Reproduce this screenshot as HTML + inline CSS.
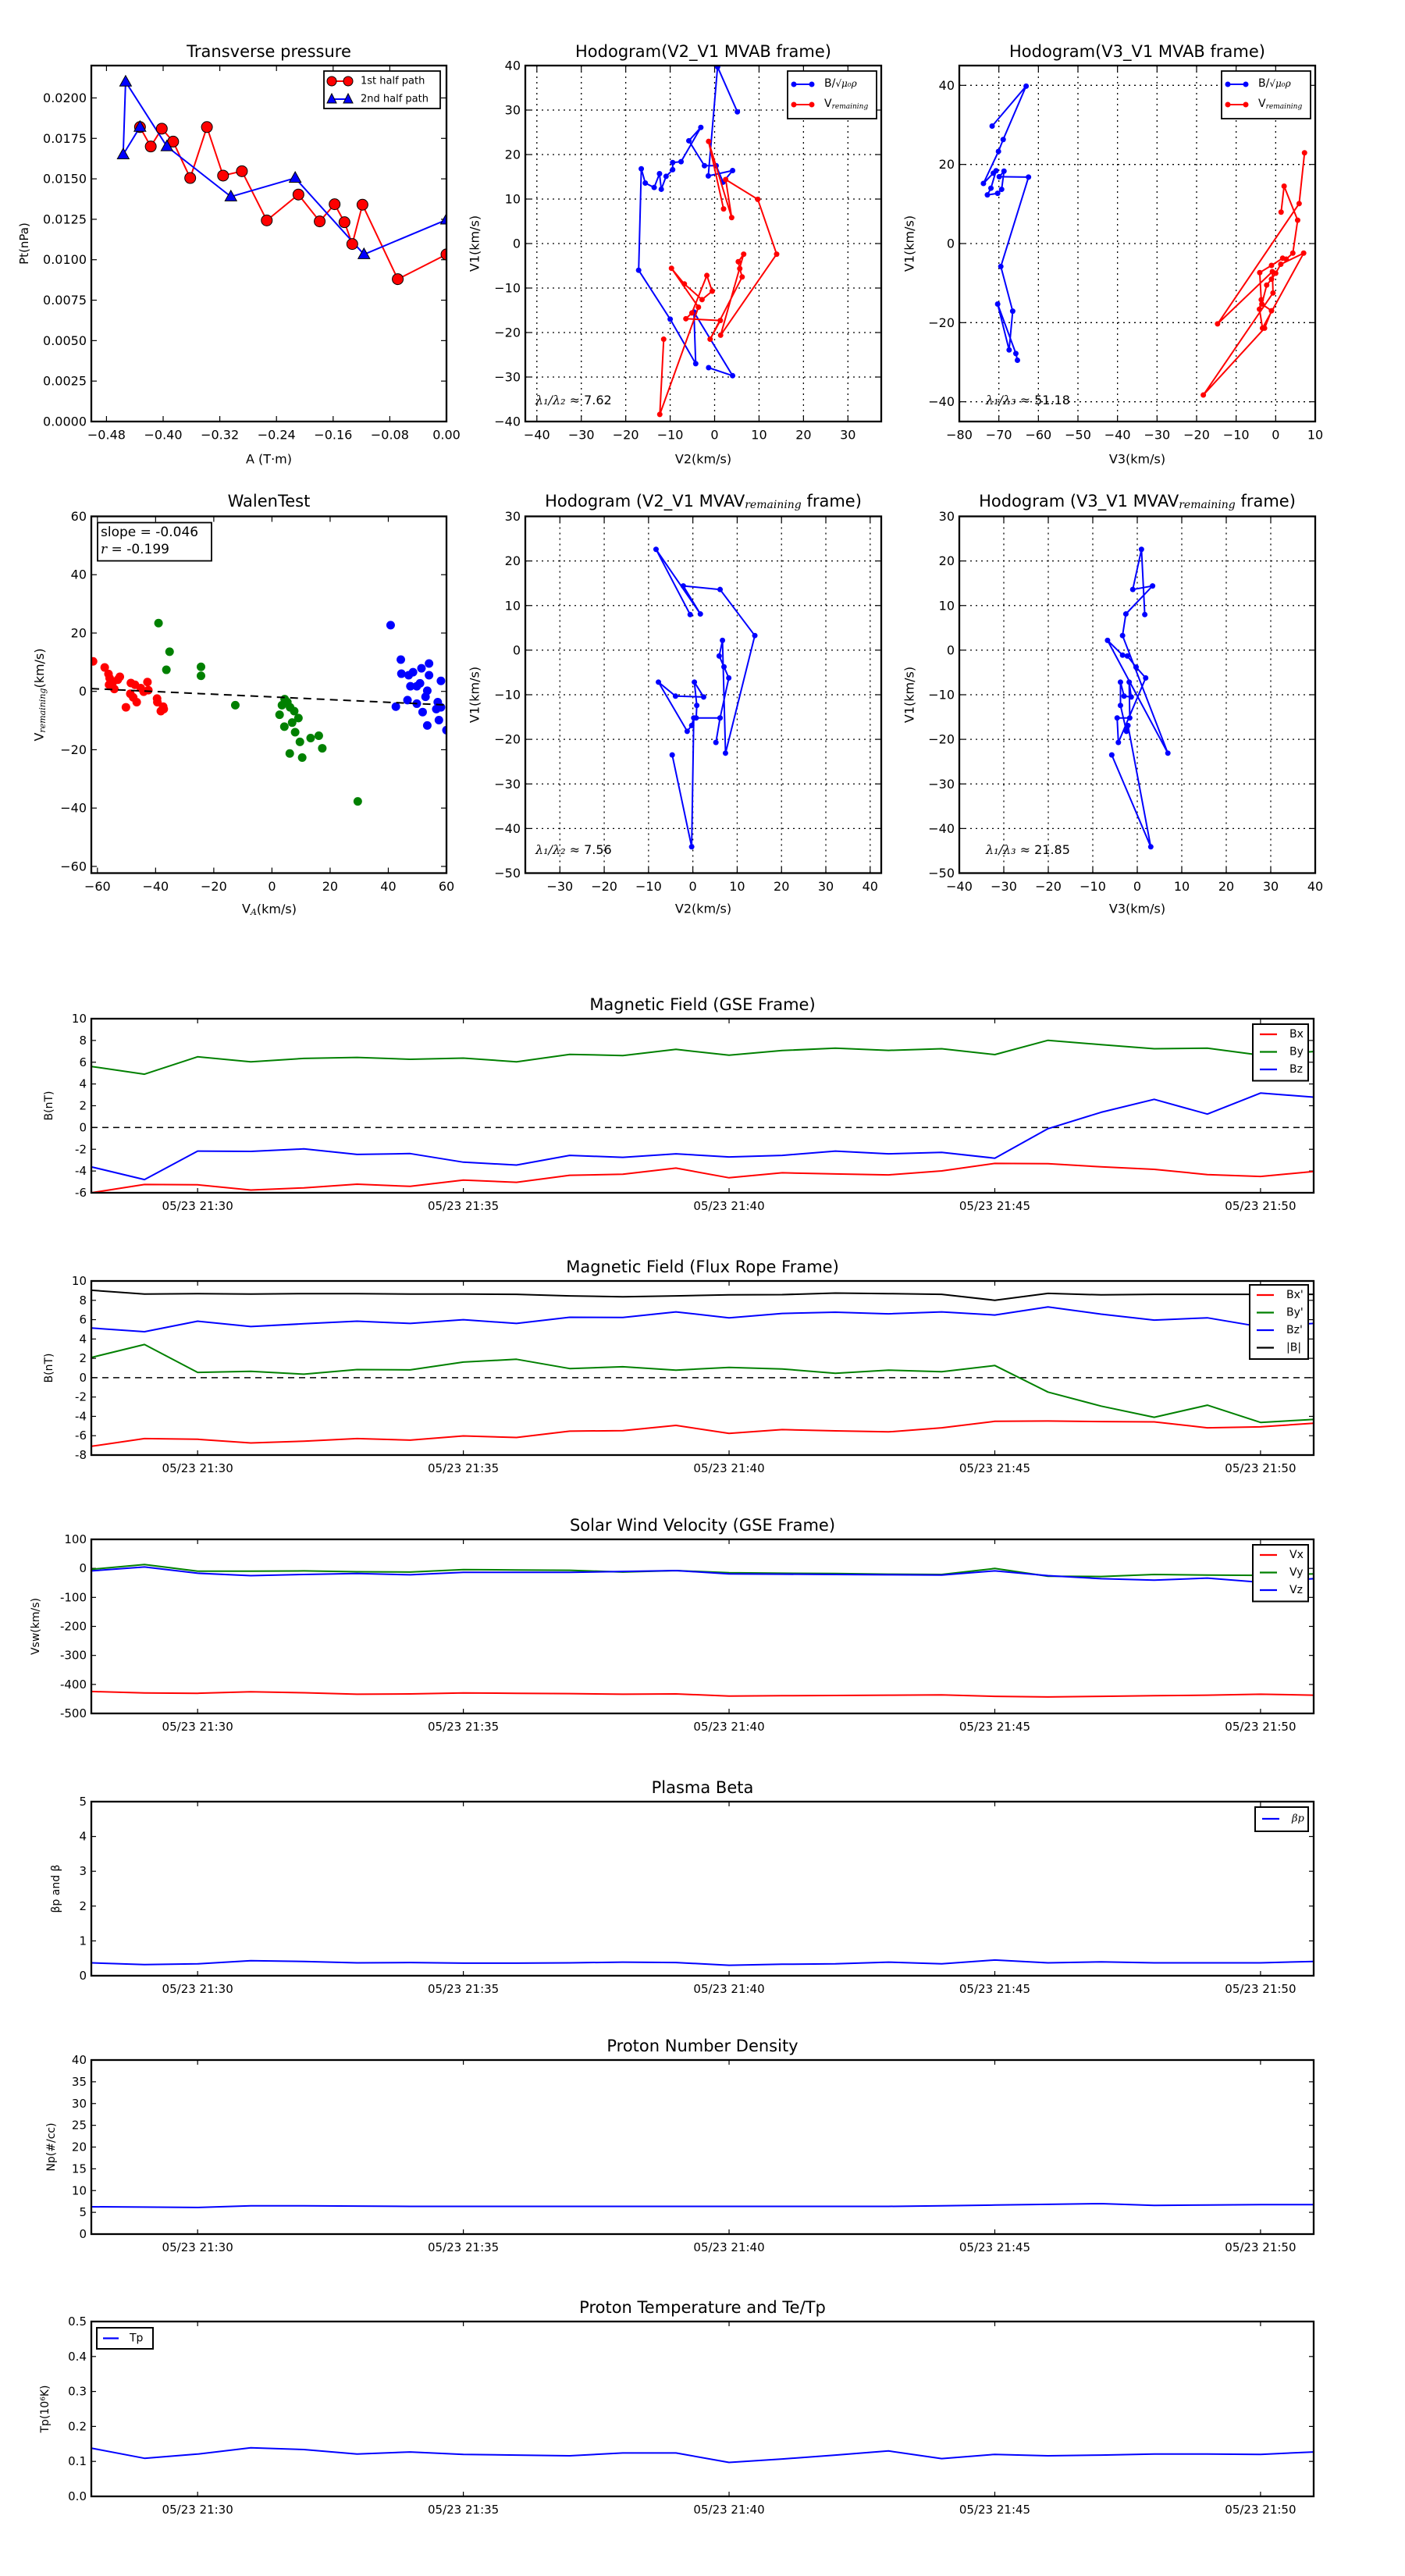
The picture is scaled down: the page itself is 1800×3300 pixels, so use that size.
<!DOCTYPE html>
<html><head><meta charset="utf-8"><title>Flux rope analysis</title>
<style>
html,body{margin:0;padding:0;background:#fff;}
svg{display:block;font-family:"DejaVu Sans","Liberation Sans",sans-serif;}
</style></head>
<body>
<svg id="fig" xmlns="http://www.w3.org/2000/svg" width="1800" height="3300" viewBox="0 0 1800 3300"></svg>
<script>
// ---------- data ----------
const pr1A=[-0.4327,-0.4175,-0.4019,-0.3859,-0.3618,-0.3382,-0.3154,-0.2888,-0.2537,-0.2090,-0.1790,-0.1579,-0.1440,-0.1330,-0.1186,-0.0688,0];
const pr1P=[0.0182,0.0170,0.0181,0.0173,0.01505,0.0182,0.0152,0.01547,0.01243,0.01403,0.01237,0.01343,0.01232,0.01097,0.0134,0.0088,0.01033];
const pr2A=[-0.4327,-0.4564,-0.4530,-0.3947,-0.3044,-0.2136,-0.1165,0];
const pr2P=[0.0182,0.0165,0.0210,0.0170,0.0139,0.01505,0.01033,0.01247];

const h1bX=[5.12,0.67,-1.42,4.05,1.89,0.34,-2.29,-5.80,-3.10,-7.55,-9.44,-9.44,-10.92,-12.0,-12.4,-13.6,-15.6,-16.5,-17.1,-10.0,-4.25,-4.65,4.05,-1.35];
const h1bY=[29.6,39.7,15.2,16.4,13.8,17.5,17.5,23.1,26.1,18.4,18.2,16.6,15.1,12.2,15.7,12.6,13.6,16.8,-6.0,-17.0,-27.0,-15.4,-29.7,-27.9];
const h1rX=[2.02,-1.35,3.84,2.49,9.71,13.96,1.35,6.54,5.33,5.66,6.20,-1.01,1.28,-6.47,-5.12,-1.75,-0.54,-2.83,-6.81,-9.71,-3.64,-12.34,-11.46];
const h1rY=[7.78,22.95,5.83,14.39,9.94,-2.39,-20.6,-2.39,-4.08,-5.63,-7.51,-21.5,-17.3,-16.9,-15.6,-7.18,-10.7,-12.6,-9.07,-5.56,-14.3,-38.4,-21.5];

const h2bX=[-71.7,-63.1,-68.9,-70.1,-73.9,-71.4,-70.7,-72.0,-72.9,-70.3,-69.3,-68.7,-69.9,-62.5,-69.5,-66.5,-67.4,-70.3,-65.7,-65.3];
const h2bY=[29.7,39.8,26.3,23.3,15.2,17.8,18.4,14.0,12.3,12.7,13.7,18.3,16.9,16.8,-5.8,-17.1,-26.9,-15.3,-27.8,-29.5];
const h2rX=[1.37,2.13,5.55,4.33,2.66,1.75,-1.06,-4.03,-3.65,-4.10,-3.34,7.07,1.29,0,-1.06,-2.28,-3.50,-1.06,-2.81,-18.3,-0.68,-0.84,-14.7,5.93,7.29];
const h2rY=[7.95,14.5,5.9,-2.42,-3.94,-3.71,-5.53,-7.35,-14.2,-16.6,-21.4,-2.42,-5.23,-7.5,-9.0,-10.5,-15.3,-17.0,-21.4,-38.3,-12.5,-7.1,-20.3,10.1,22.95];

const wRX=[-61.5,-57.5,-56.2,-55.8,-56.0,-54.6,-54.2,-53.0,-52.3,-50.2,-48.5,-48.7,-47.7,-47.1,-46.5,-45.1,-44.1,-42.8,-42.5,-39.5,-39.4,-38.2,-37.4,-37.2];
const wRY=[10.3,8.2,5.96,4.52,2.26,3.29,0.82,4.0,5.0,-5.45,2.88,-0.82,-2.05,2.26,-3.70,1.13,-0.10,3.19,0.41,-2.47,-3.70,-6.78,-5.24,-6.06];
const wGX=[-39.0,-35.2,-36.3,-24.4,-24.4,-12.6,2.62,3.44,4.37,5.30,4.27,6.22,6.94,7.66,9.10,7.97,9.61,6.12,10.4,13.3,16.1,17.3,29.5];
const wGY=[23.4,13.6,7.40,8.42,5.34,-4.73,-8.01,-4.73,-2.67,-3.70,-12.1,-5.45,-10.7,-6.78,-9.14,-14.0,-17.3,-21.3,-22.7,-16.0,-15.2,-19.5,-37.7];
const wBX=[40.8,44.3,44.5,47.0,48.5,51.4,54.0,54.0,58.1,47.6,49.8,50.9,53.4,52.8,46.6,49.8,42.6,57.0,56.5,58.1,51.8,57.4,53.4,60.0];
const wBY=[22.7,10.9,6.06,5.55,6.58,7.91,9.56,5.55,3.60,1.75,1.75,2.77,0.21,-1.85,-2.98,-4.21,-5.24,-3.70,-6.06,-5.45,-7.09,-9.86,-11.7,-13.3];
const walenSlope=-0.046, walenIntercept=-1.9;

const h3X=[-0.61,-8.31,1.69,-2.16,6.14,13.98,7.36,6.68,5.94,7.02,8.10,6.14,5.20,6.14,0.74,0.88,0.34,2.43,-3.92,-7.77,-1.28,-0.27,0.20,-0.27,-4.66];
const h3Y=[7.98,22.6,8.11,14.4,13.6,3.27,-23.1,2.19,-1.31,-3.74,-6.23,-15.2,-20.7,-15.2,-15.2,-12.4,-7.17,-10.5,-10.3,-7.17,-18.2,-16.9,-15.2,-44.1,-23.5];
const h4X=[1.69,0.94,-1.01,3.44,-2.56,-3.31,6.88,-6.68,-3.31,-2.23,-0.27,1.89,-4.25,-4.52,-1.69,-1.82,-1.35,-2.97,-3.78,-3.78,-2.43,-2.09,3.04,-5.73];
const h4Y=[7.98,22.6,13.6,14.4,8.11,3.27,-23.1,2.19,-1.11,-1.31,-3.81,-6.23,-20.7,-15.2,-15.2,-7.17,-10.5,-10.3,-7.17,-12.4,-18.2,-16.9,-44.1,-23.5];

// time series: minutes after 21:28, one sample per minute
const tMin=[0,1,2,3,4,5,6,7,8,9,10,11,12,13,14,15,16,17,18,19,20,21,22,23];
const timeTickMin=[2,7,12,17,22];
const timeTickLabels=['05/23 21:30','05/23 21:35','05/23 21:40','05/23 21:45','05/23 21:50'];
const gseBx=[-6,-5.24,-5.27,-5.75,-5.55,-5.21,-5.41,-4.84,-5.04,-4.39,-4.30,-3.73,-4.62,-4.16,-4.27,-4.36,-3.99,-3.30,-3.33,-3.62,-3.85,-4.33,-4.50,-4.04];
const gseBy=[5.61,4.90,6.50,6.04,6.35,6.44,6.27,6.38,6.04,6.72,6.61,7.18,6.64,7.07,7.29,7.09,7.24,6.70,8.01,7.61,7.24,7.29,6.64,6.98];
const gseBz=[-3.62,-4.79,-2.17,-2.20,-1.97,-2.48,-2.40,-3.19,-3.45,-2.56,-2.74,-2.42,-2.71,-2.56,-2.17,-2.42,-2.28,-2.82,-0.11,1.40,2.59,1.23,3.16,2.79];
const frBx=[-7.10,-6.30,-6.37,-6.75,-6.56,-6.30,-6.46,-6.02,-6.18,-5.53,-5.47,-4.93,-5.76,-5.37,-5.50,-5.60,-5.18,-4.51,-4.48,-4.54,-4.57,-5.18,-5.09,-4.71];
const frBy=[2.09,3.43,0.55,0.65,0.36,0.84,0.81,1.61,1.90,0.94,1.13,0.78,1.06,0.90,0.45,0.78,0.62,1.26,-1.49,-2.94,-4.09,-2.84,-4.63,-4.32];
const frBz=[5.13,4.75,5.84,5.29,5.58,5.84,5.61,6.00,5.61,6.25,6.22,6.80,6.19,6.64,6.77,6.60,6.80,6.48,7.31,6.57,5.96,6.19,5.26,5.61];
const frBt=[9.04,8.65,8.69,8.65,8.69,8.69,8.65,8.65,8.62,8.46,8.37,8.46,8.56,8.59,8.75,8.69,8.62,8.01,8.72,8.56,8.62,8.62,8.62,8.62];
const vx=[-424.5,-429.6,-430.7,-425.5,-428.6,-433.8,-432.8,-429.6,-430.7,-431.7,-433.8,-432.8,-440.0,-439.0,-438.0,-437.0,-435.9,-441.0,-443.1,-441.0,-439.0,-437.0,-433.8,-437.0];
const vy=[-3.4,13.1,-9.7,-9.7,-8.6,-11.7,-12.8,-4.5,-5.5,-6.5,-12.8,-7.6,-14.8,-16.9,-17.9,-20.0,-21.0,-0.3,-27.2,-28.2,-21.0,-23.1,-24.1,-19.0];
const vz=[-8.6,4.8,-16.9,-25.2,-21.0,-17.9,-22.1,-13.8,-13.8,-13.8,-10.7,-7.6,-19.0,-20.0,-21.0,-22.1,-23.1,-8.6,-25.2,-35.5,-40.7,-33.4,-47.9,-35.5];
const betaP=[0.37,0.32,0.34,0.43,0.41,0.37,0.38,0.36,0.36,0.37,0.39,0.38,0.30,0.33,0.34,0.39,0.34,0.45,0.37,0.40,0.37,0.37,0.37,0.41];
const np=[6.28,6.2,6.12,6.52,6.52,6.44,6.36,6.36,6.36,6.36,6.36,6.36,6.36,6.36,6.36,6.36,6.52,6.68,6.84,7.0,6.6,6.68,6.76,6.76];
const tp=[0.138,0.109,0.121,0.139,0.134,0.121,0.127,0.120,0.118,0.116,0.124,0.124,0.097,0.107,0.118,0.130,0.108,0.120,0.116,0.118,0.121,0.121,0.120,0.127];

// ---------- helpers ----------
const NS='http://www.w3.org/2000/svg';
const svg=document.getElementById('fig');
function mk(tag,attrs,name,parent){
  const el=document.createElementNS(NS,tag);
  for(const k in attrs) el.setAttribute(k,attrs[k]);
  
  
  (parent||svg).appendChild(el);
  return el;
}
function txt(x,y,s,size,anchor,name,parent,extra){
  const a=Object.assign({x:x,y:y,'font-size':size,'text-anchor':anchor||'middle','dominant-baseline':'central',fill:'#000'},extra||{});
  const t=mk('text',a,name,parent);
  t.textContent=s;
  return t;
}
function fmtMinus(s){return String(s).replace('-','\u2212');}
function makeAxes(o){
  const g=mk('g',{},o.name);
  const sx=v=>o.x0+(v-o.xmin)/(o.xmax-o.xmin)*o.w;
  const sy=v=>o.y0+o.h-(v-o.ymin)/(o.ymax-o.ymin)*o.h;
  const clipId='clip-'+o.name;
  const cp=mk('clipPath',{id:clipId},'clip-'+o.name,g);
  mk('rect',{x:o.x0,y:o.y0,width:o.w,height:o.h},'clip-rect',cp);
  const grid=mk('g',{},'grid',g);
  const ticks=mk('g',{},'ticks',g);
  const tl=o.tl||7;
  (o.xticks||[]).forEach((v,i)=>{
    const x=sx(v);
    if(o.grid) mk('line',{x1:x,y1:o.y0,x2:x,y2:o.y0+o.h,stroke:'#000','stroke-width':1.3,'stroke-dasharray':'2,5'},'x-grid-line',grid);
    mk('line',{x1:x,y1:o.y0+o.h,x2:x,y2:o.y0+o.h-tl,stroke:'#000','stroke-width':1.2},'x-tick',ticks);
    mk('line',{x1:x,y1:o.y0,x2:x,y2:o.y0+tl,stroke:'#000','stroke-width':1.2},'x-tick-top',ticks);
    txt(x,o.y0+o.h+(o.xlOff||17),o.xlabels?o.xlabels[i]:fmtMinus(v),o.tfs||16,'middle','x-tick-label',ticks);
  });
  (o.yticks||[]).forEach((v,i)=>{
    const y=sy(v);
    if(o.grid) mk('line',{x1:o.x0,y1:y,x2:o.x0+o.w,y2:y,stroke:'#000','stroke-width':1.3,'stroke-dasharray':'2,5'},'y-grid-line',grid);
    mk('line',{x1:o.x0,y1:y,x2:o.x0+tl,y2:y,stroke:'#000','stroke-width':1.2},'y-tick',ticks);
    mk('line',{x1:o.x0+o.w,y1:y,x2:o.x0+o.w-tl,y2:y,stroke:'#000','stroke-width':1.2},'y-tick-right',ticks);
    txt(o.x0-(o.ylOff||6),y,o.ylabels?o.ylabels[i]:fmtMinus(v),o.tfs||16,'end','y-tick-label',ticks);
  });
  const plot=mk('g',{'clip-path':'url(#'+clipId+')'},'plot-area',g);
  const over=mk('g',{},'overlay',g);
  mk('rect',{x:o.x0,y:o.y0,width:o.w,height:o.h,fill:'none',stroke:'#000','stroke-width':2.3},'axes-frame',g);
  if(o.title) txt(o.x0+o.w/2,o.titleY,o.title,o.titleFs||21,'middle','chart-title',g);
  if(o.xlabel) txt(o.x0+o.w/2,o.xlabelY,o.xlabel,16,'middle','x-axis-title',g);
  if(o.ylabel){const t=txt(o.ylabelX,o.y0+o.h/2,o.ylabel,o.ylFs||16,'middle','y-axis-title',g,{transform:'rotate(-90 '+o.ylabelX+' '+(o.y0+o.h/2)+')'});}
  return {g,sx,sy,plot,over,o};
}
function poly(ax,xs,ys,color,name,w){
  const pts=xs.map((v,i)=>ax.sx(v).toFixed(1)+','+ax.sy(ys[i]).toFixed(1)).join(' ');
  return mk('polyline',{points:pts,fill:'none',stroke:color,'stroke-width':w||2,'stroke-linejoin':'round'},name,ax.plot);
}
function dots(ax,xs,ys,color,r,name,stroke){
  xs.forEach((v,i)=>{
    mk('circle',{cx:ax.sx(v),cy:ax.sy(ys[i]),r:r,fill:color,stroke:stroke||'none','stroke-width':1},name,ax.plot);
  });
}
function range(a,b,s){const r=[];for(let v=a;v<=b+1e-9;v+=s)r.push(Math.round(v*1e6)/1e6);return r;}

// ---------- Transverse pressure ----------
const pAx=makeAxes({name:'transverse-pressure-chart',x0:117,y0:84,w:455,h:456,xmin:-0.5014,xmax:0,ymin:0,ymax:0.022,
  xticks:[-0.48,-0.40,-0.32,-0.24,-0.16,-0.08,0],xlabels:['\u22120.48','\u22120.40','\u22120.32','\u22120.24','\u22120.16','\u22120.08','0.00'],
  yticks:range(0,0.02,0.0025),ylabels:range(0,0.02,0.0025).map(v=>v.toFixed(4)),
  title:'Transverse pressure',titleY:66,xlabel:'A (T\u00b7m)',xlabelY:588,ylabel:'Pt(nPa)',ylabelX:31,ylFs:15});
poly(pAx,pr1A,pr1P,'#f00','first-half-path-line',2);
poly(pAx,pr2A,pr2P,'#00f','second-half-path-line',2);
dots(pAx,pr1A,pr1P,'#f00',7,'first-half-marker','#000');
pr2A.forEach((v,i)=>{
  const x=pAx.sx(v),y=pAx.sy(pr2P[i]);
  mk('polygon',{points:(x)+','+(y-8)+' '+(x-7.5)+','+(y+5.5)+' '+(x+7.5)+','+(y+5.5),fill:'#00f',stroke:'#000','stroke-width':1},'second-half-marker',pAx.plot);
});
(function(){
  const lg=mk('g',{},'pressure-legend',pAx.over);
  mk('rect',{x:415,y:91,width:149,height:48,fill:'#fff',stroke:'#000','stroke-width':1.8},'legend-box',lg);
  mk('line',{x1:425,y1:104,x2:446,y2:104,stroke:'#f00','stroke-width':2},'legend-line-first',lg);
  mk('circle',{cx:425,cy:104,r:6,fill:'#f00',stroke:'#000'},'legend-marker-first',lg);
  mk('circle',{cx:446,cy:104,r:6,fill:'#f00',stroke:'#000'},'legend-marker-first',lg);
  txt(462,104,'1st half path',13,'start','legend-entry-first',lg);
  mk('line',{x1:425,y1:127,x2:446,y2:127,stroke:'#00f','stroke-width':2},'legend-line-second',lg);
  mk('polygon',{points:'425,120 419,132 431,132',fill:'#00f',stroke:'#000'},'legend-marker-second',lg);
  mk('polygon',{points:'446,120 440,132 452,132',fill:'#00f',stroke:'#000'},'legend-marker-second',lg);
  txt(462,127,'2nd half path',13,'start','legend-entry-second',lg);
})();

// ---------- hodogram legend helper ----------
function hodoLegend(ax,x,name){
  const lg=mk('g',{},name,ax.over);
  mk('rect',{x:x,y:91,width:114,height:61,fill:'#fff',stroke:'#000','stroke-width':1.8},'legend-box',lg);
  mk('line',{x1:x+8,y1:108,x2:x+31,y2:108,stroke:'#00f','stroke-width':2},'legend-line-b',lg);
  mk('circle',{cx:x+8,cy:108,r:3.5,fill:'#00f'},'legend-dot',lg);
  mk('circle',{cx:x+31,cy:108,r:3.5,fill:'#00f'},'legend-dot',lg);
  const t1=txt(x+47,107,'B/',14,'start','legend-entry-b',lg);
  const ts=document.createElementNS(NS,'tspan');ts.setAttribute('font-family','DejaVu Serif, serif');ts.setAttribute('font-style','italic');ts.setAttribute('font-size','12');ts.textContent='\u221A\u03bc\u2080\u03c1';t1.appendChild(ts);
  mk('line',{x1:x+8,y1:134,x2:x+31,y2:134,stroke:'#f00','stroke-width':2},'legend-line-v',lg);
  mk('circle',{cx:x+8,cy:134,r:3.5,fill:'#f00'},'legend-dot',lg);
  mk('circle',{cx:x+31,cy:134,r:3.5,fill:'#f00'},'legend-dot',lg);
  const t2=txt(x+47,133,'V',14,'start','legend-entry-v',lg);
  const s2=document.createElementNS(NS,'tspan');s2.setAttribute('font-family','DejaVu Serif, serif');s2.setAttribute('font-style','italic');s2.setAttribute('font-size','9');s2.setAttribute('dy','4');s2.textContent='remaining';t2.appendChild(s2);
}
function lambdaText(ax,x,y,sub,val){
  const t=txt(x,y,'',16,'start','eigenvalue-ratio-label',ax.over);
  const a=document.createElementNS(NS,'tspan');a.setAttribute('font-family','DejaVu Serif, serif');a.setAttribute('font-style','italic');a.textContent='\u03bb\u2081/\u03bb'+sub+' \u2248 ';t.appendChild(a);
  const b=document.createElementNS(NS,'tspan');b.textContent=val;t.appendChild(b);
}

// ---------- Hodogram V2_V1 MVAB ----------
const h1=makeAxes({name:'hodogram-v2-v1-mvab',x0:673,y0:84,w:456,h:456,xmin:-42.6,xmax:37.5,ymin:-40,ymax:40,grid:true,
  xticks:range(-40,30,10),yticks:range(-40,40,10),title:'Hodogram(V2_V1 MVAB frame)',titleY:66,xlabel:'V2(km/s)',xlabelY:588,ylabel:'V1(km/s)',ylabelX:608});
poly(h1,h1bX,h1bY,'#00f','b-hodogram-line');dots(h1,h1bX,h1bY,'#00f',3.5,'b-hodogram-point');
poly(h1,h1rX,h1rY,'#f00','v-hodogram-line');dots(h1,h1rX,h1rY,'#f00',3.5,'v-hodogram-point');
hodoLegend(h1,1009,'hodogram-legend');lambdaText(h1,686,512,'\u2082','7.62');

// ---------- Hodogram V3_V1 MVAB ----------
const h2=makeAxes({name:'hodogram-v3-v1-mvab',x0:1229,y0:84,w:456,h:456,xmin:-80,xmax:10,ymin:-45,ymax:45,grid:true,
  xticks:range(-80,10,10),yticks:range(-40,40,20),title:'Hodogram(V3_V1 MVAB frame)',titleY:66,xlabel:'V3(km/s)',xlabelY:588,ylabel:'V1(km/s)',ylabelX:1165});
poly(h2,h2bX,h2bY,'#00f','b-hodogram-line');dots(h2,h2bX,h2bY,'#00f',3.5,'b-hodogram-point');
poly(h2,h2rX,h2rY,'#f00','v-hodogram-line');dots(h2,h2rX,h2rY,'#f00',3.5,'v-hodogram-point');
hodoLegend(h2,1565,'hodogram-legend');lambdaText(h2,1263,512,'\u2083','51.18');

// ---------- Walen test ----------
const wAx=makeAxes({name:'walen-test-chart',x0:117,y0:661.5,w:455,h:457,xmin:-62.1,xmax:60,ymin:-62.3,ymax:60,
  xticks:range(-60,60,20),yticks:range(-60,60,20),title:'WalenTest',titleY:642,xlabel:'',ylabel:'',tfs:16});
dots(wAx,wRX,wRY,'#f00',5.5,'walen-point-red');
dots(wAx,wGX,wGY,'#008000',5.5,'walen-point-green');
dots(wAx,wBX,wBY,'#00f',5.5,'walen-point-blue');
mk('line',{x1:wAx.sx(-62.1),y1:wAx.sy(walenSlope*-62.1+walenIntercept),x2:wAx.sx(60),y2:wAx.sy(walenSlope*60+walenIntercept),stroke:'#000','stroke-width':2,'stroke-dasharray':'10,7'},'regression-line',wAx.plot);
(function(){
  const b=mk('g',{},'walen-stats-box',wAx.over);
  mk('rect',{x:125,y:669.5,width:146,height:49,fill:'#fff',stroke:'#000','stroke-width':1.8},'stats-box',b);
  txt(129,682,'slope = -0.046',17,'start','slope-label',b);
  const t=txt(129,704,'',17,'start','r-label',b);
  const a=document.createElementNS(NS,'tspan');a.setAttribute('font-family','DejaVu Serif, serif');a.setAttribute('font-style','italic');a.textContent='r';t.appendChild(a);
  const c=document.createElementNS(NS,'tspan');c.textContent=' = -0.199';t.appendChild(c);
  const xl=txt(345,1164,'V',16,'middle','x-axis-title',wAx.g);
  const xs=document.createElementNS(NS,'tspan');xs.setAttribute('font-family','DejaVu Serif, serif');xs.setAttribute('font-style','italic');xs.setAttribute('font-size','11');xs.setAttribute('dy','4');xs.textContent='A';xl.appendChild(xs);
  const xs2=document.createElementNS(NS,'tspan');xs2.setAttribute('dy','-4');xs2.textContent='(km/s)';xl.appendChild(xs2);
  const yl=txt(50,890,'V',16,'middle','y-axis-title',wAx.g,{transform:'rotate(-90 50 890)'});
  const ys=document.createElementNS(NS,'tspan');ys.setAttribute('font-family','DejaVu Serif, serif');ys.setAttribute('font-style','italic');ys.setAttribute('font-size','11');ys.setAttribute('dy','4');ys.textContent='remaining';yl.appendChild(ys);
  const ys2=document.createElementNS(NS,'tspan');ys2.setAttribute('dy','-4');ys2.textContent='(km/s)';yl.appendChild(ys2);
})();

// ---------- Hodogram remaining frames ----------
function remTitle(ax,x,pre){
  const t=txt(x,642,pre,21,'middle','chart-title-remaining',ax.g);
  const s=document.createElementNS(NS,'tspan');s.setAttribute('font-family','DejaVu Serif, serif');s.setAttribute('font-style','italic');s.setAttribute('font-size','14');s.setAttribute('dy','5');s.textContent='remaining';t.appendChild(s);
  const e=document.createElementNS(NS,'tspan');e.setAttribute('dy','-5');e.textContent=' frame)';t.appendChild(e);
}
const h3=makeAxes({name:'hodogram-v2-v1-mvav',x0:673,y0:661.5,w:456,h:457,xmin:-37.8,xmax:42.5,ymin:-50,ymax:30,grid:true,
  xticks:range(-30,40,10),yticks:range(-50,30,10),xlabel:'V2(km/s)',xlabelY:1164,ylabel:'V1(km/s)',ylabelX:608});
remTitle(h3,901,'Hodogram (V2_V1 MVAV');
poly(h3,h3X,h3Y,'#00f','hodogram-line');dots(h3,h3X,h3Y,'#00f',3.5,'hodogram-point');
lambdaText(h3,686,1088,'\u2082','7.56');
const h4=makeAxes({name:'hodogram-v3-v1-mvav',x0:1229,y0:661.5,w:456,h:457,xmin:-40,xmax:40,ymin:-50,ymax:30,grid:true,
  xticks:range(-40,40,10),yticks:range(-50,30,10),xlabel:'V3(km/s)',xlabelY:1164,ylabel:'V1(km/s)',ylabelX:1165});
remTitle(h4,1457,'Hodogram (V3_V1 MVAV');
poly(h4,h4X,h4Y,'#00f','hodogram-line');dots(h4,h4X,h4Y,'#00f',3.5,'hodogram-point');
lambdaText(h4,1263,1088,'\u2083','21.85');

// ---------- Time series ----------
function timePanel(name,y0,h,ymin,ymax,step,title,ylabel,ylabelX,dec){
  const yt=range(ymin,ymax,step);
  return makeAxes({name:name,x0:117,y0:y0,w:1566,h:h,xmin:0,xmax:23,ymin:ymin,ymax:ymax,tl:6,
    xticks:timeTickMin,xlabels:timeTickLabels,yticks:yt,ylabels:yt.map(v=>dec?v.toFixed(dec):String(v)),
    title:title,titleY:y0-18,titleFs:21,ylabel:ylabel,ylabelX:ylabelX,ylFs:14,tfs:15});
}
function tsLegend(ax,x,y,w,entries,name){
  const lg=mk('g',{},name,ax.over);
  const hh=entries.length*22.5+5;
  mk('rect',{x:x,y:y,width:w,height:hh,fill:'#fff',stroke:'#000','stroke-width':2},'legend-box',lg);
  entries.forEach((e,i)=>{
    const yy=y+13+i*22.5;
    mk('line',{x1:x+9,y1:yy,x2:x+31,y2:yy,stroke:e[1],'stroke-width':2.2},'legend-swatch',lg);
    txt(x+47,yy,e[0],14,'start','legend-entry',lg);
  });
}
function zeroLine(ax){mk('line',{x1:ax.sx(0),y1:ax.sy(0),x2:ax.sx(23),y2:ax.sy(0),stroke:'#000','stroke-width':1.5,'stroke-dasharray':'8,6'},'zero-line',ax.plot);}

const g1=timePanel('magnetic-field-gse',1305,223,-6,10,2,'Magnetic Field (GSE Frame)','B(nT)',63);
zeroLine(g1);
poly(g1,tMin,gseBx,'#f00','bx-line');poly(g1,tMin,gseBy,'#008000','by-line');poly(g1,tMin,gseBz,'#00f','bz-line');
tsLegend(g1,1605,1312,71,[['Bx','#f00'],['By','#008000'],['Bz','#00f']],'gse-legend');

const g2=timePanel('magnetic-field-flux-rope',1641,223,-8,10,2,'Magnetic Field (Flux Rope Frame)','B(nT)',63);
zeroLine(g2);
poly(g2,tMin,frBx,'#f00','bx-prime-line');poly(g2,tMin,frBy,'#008000','by-prime-line');poly(g2,tMin,frBz,'#00f','bz-prime-line');poly(g2,tMin,frBt,'#000','b-magnitude-line');
tsLegend(g2,1601,1646,75,[["Bx'",'#f00'],["By'",'#008000'],["Bz'",'#00f'],['|B|','#000']],'flux-rope-legend');

const g3=timePanel('solar-wind-velocity',1972,223,-500,100,100,'Solar Wind Velocity (GSE Frame)','Vsw(km/s)',46);
poly(g3,tMin,vx,'#f00','vx-line');poly(g3,tMin,vy,'#008000','vy-line');poly(g3,tMin,vz,'#00f','vz-line');
tsLegend(g3,1605,1979,71,[['Vx','#f00'],['Vy','#008000'],['Vz','#00f']],'velocity-legend');

const g4=timePanel('plasma-beta',2308,223,0,5,1,'Plasma Beta','\u03b2p and \u03b2',72);
poly(g4,tMin,betaP,'#00f','beta-p-line');
(function(){const lg=mk('g',{},'beta-legend',g4.over);
  mk('rect',{x:1608,y:2315,width:68,height:31,fill:'#fff',stroke:'#000','stroke-width':2},'legend-box',lg);
  mk('line',{x1:1617,y1:2330,x2:1639,y2:2330,stroke:'#00f','stroke-width':2.2},'legend-swatch',lg);
  txt(1655,2330,'\u03b2p',13,'start','legend-entry',lg,{'font-family':'DejaVu Serif, serif','font-style':'italic'});})();

const g5=timePanel('proton-number-density',2639,223,0,40,5,'Proton Number Density','Np(#/cc)',66);
poly(g5,tMin,np,'#00f','np-line');

const g6=timePanel('proton-temperature',2974,224,0,0.5,0.1,'Proton Temperature and Te/Tp','Tp(10\u2076K)',58,1);
poly(g6,tMin,tp,'#00f','tp-line');
(function(){const lg=mk('g',{},'tp-legend',g6.over);
  mk('rect',{x:124,y:2982,width:72,height:27,fill:'#fff',stroke:'#000','stroke-width':2},'legend-box',lg);
  mk('line',{x1:132,y1:2995.5,x2:152,y2:2995.5,stroke:'#00f','stroke-width':2.2},'legend-swatch',lg);
  txt(166,2995.5,'Tp',14,'start','legend-entry',lg);})();
</script>
</body></html>
